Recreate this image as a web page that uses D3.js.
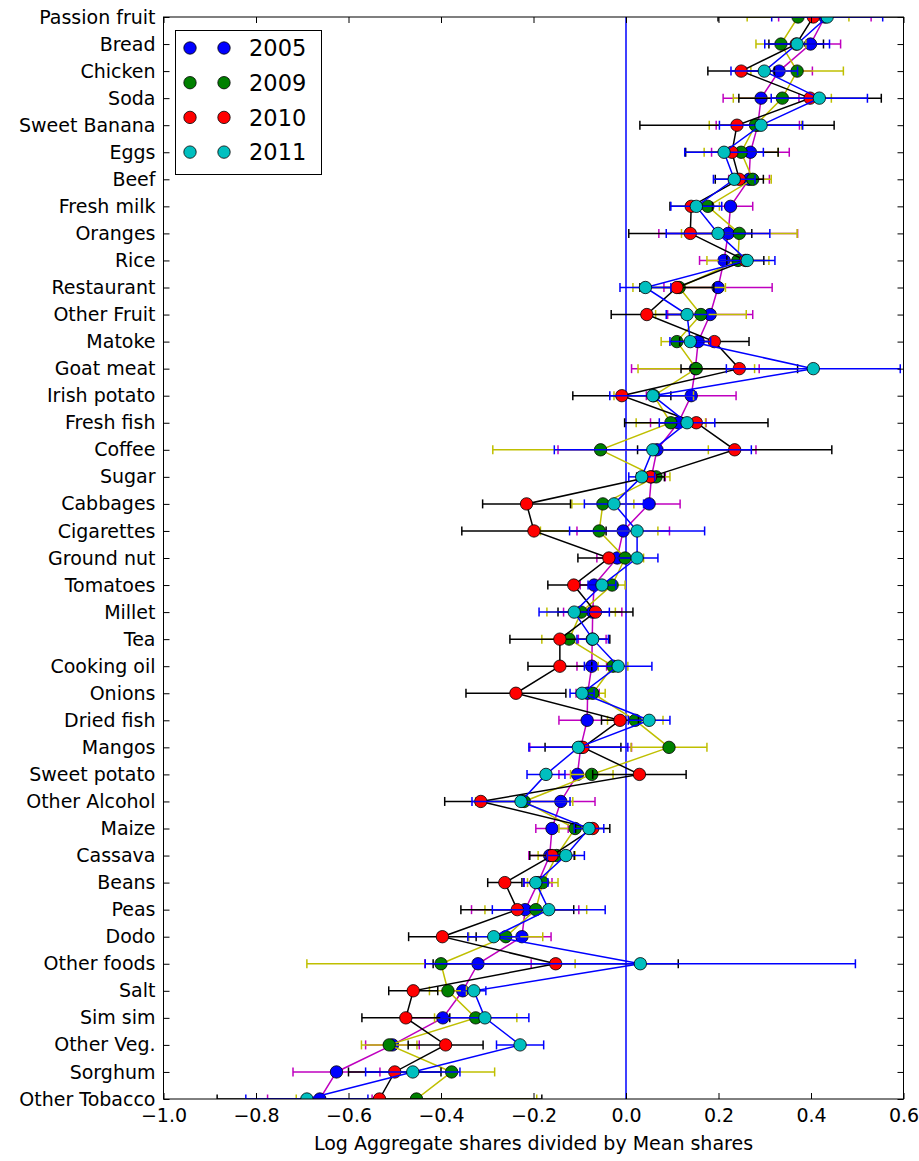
<!DOCTYPE html>
<html>
<head>
<meta charset="utf-8">
<script src="https://cdn.jsdelivr.net/npm/d3@7"></script>
<style>
  html, body { margin: 0; padding: 0; background: #fff; }
  svg { display: block; font-family: "DejaVu Sans", sans-serif; }
</style>
</head>
<body>
<svg id="chart" width="919" height="1161"></svg>
<script>
// Goods, listed top to bottom
const categories = [
  "Passion fruit", "Bread", "Chicken", "Soda", "Sweet Banana", "Eggs", "Beef",
  "Fresh milk", "Oranges", "Rice", "Restaurant", "Other Fruit", "Matoke",
  "Goat meat", "Irish potato", "Fresh fish", "Coffee", "Sugar", "Cabbages",
  "Cigarettes", "Ground nut", "Tomatoes", "Millet", "Tea", "Cooking oil",
  "Onions", "Dried fish", "Mangos", "Sweet potato", "Other Alcohol", "Maize",
  "Cassava", "Beans", "Peas", "Dodo", "Other foods", "Salt", "Sim sim",
  "Other Veg.", "Sorghum", "Other Tobacco"
];

// Log aggregate share / mean share, and error half-widths, per survey year
const v2005 = [0.430, 0.399, 0.331, 0.292, 0.285, 0.269, 0.266, 0.226, 0.221, 0.212,
  0.199, 0.182, 0.156, 0.150, 0.141, 0.113, 0.067, 0.055, 0.050, -0.006,
  -0.019, -0.069, -0.072, -0.073, -0.074, -0.083, -0.084, -0.098, -0.105, -0.141,
  -0.160, -0.165, -0.190, -0.218, -0.225, -0.320, -0.353, -0.396, -0.505, -0.626, -0.662];
const e2005 = [0.100, 0.065, 0.072, 0.082, 0.090, 0.084, 0.044, 0.048, 0.150, 0.053,
  0.117, 0.092, 0.040, 0.138, 0.097, 0.060, 0.214, 0.030, 0.067, 0.100,
  0.044, 0.030, 0.063, 0.030, 0.032, 0.025, 0.061, 0.110, 0.040, 0.074,
  0.035, 0.045, 0.030, 0.116, 0.063, 0.115, 0.030, 0.070, 0.058, 0.094, 0.113];

const v2009 = [0.372, 0.335, 0.370, 0.338, 0.280, 0.249, 0.274, 0.177, 0.245, 0.242,
  0.115, 0.162, 0.110, 0.152, 0.060, 0.097, -0.055, 0.065, -0.050, -0.058,
  -0.002, -0.030, -0.097, -0.123, -0.028, -0.072, 0.020, 0.093, -0.074, -0.220,
  -0.110, -0.150, -0.180, -0.195, -0.260, -0.400, -0.385, -0.325, -0.512, -0.377, -0.453];
const e2009 = [0.110, 0.054, 0.100, 0.106, 0.100, 0.080, 0.040, 0.025, 0.125, 0.067,
  0.100, 0.098, 0.034, 0.126, 0.086, 0.075, 0.233, 0.030, 0.067, 0.127,
  0.040, 0.028, 0.074, 0.059, 0.032, 0.027, 0.060, 0.082, 0.046, 0.105,
  0.035, 0.040, 0.033, 0.110, 0.080, 0.290, 0.040, 0.089, 0.060, 0.093, 0.260];

const v2010 = [0.405, 0.368, 0.249, 0.398, 0.240, 0.229, 0.245, 0.141, 0.139, 0.258,
  0.110, 0.045, 0.191, 0.245, -0.009, 0.152, 0.235, 0.053, -0.215, -0.199,
  -0.037, -0.113, -0.066, -0.143, -0.143, -0.238, -0.013, -0.093, 0.029, -0.314,
  -0.072, -0.160, -0.262, -0.235, -0.397, -0.152, -0.460, -0.476, -0.390, -0.500, -0.533];
const e2010 = [0.206, 0.059, 0.072, 0.154, 0.210, 0.100, 0.052, 0.046, 0.133, 0.040,
  0.080, 0.077, 0.075, 0.126, 0.106, 0.155, 0.210, 0.030, 0.095, 0.156,
  0.067, 0.056, 0.081, 0.108, 0.069, 0.108, 0.040, 0.082, 0.101, 0.078,
  0.037, 0.048, 0.037, 0.122, 0.073, 0.265, 0.053, 0.095, 0.081, 0.100, 0.351];

const v2011 = [0.435, 0.370, 0.299, 0.418, 0.292, 0.212, 0.234, 0.152, 0.199, 0.262,
  0.042, 0.132, 0.139, 0.405, 0.058, 0.132, 0.058, 0.034, -0.026, 0.024,
  0.024, -0.052, -0.112, -0.072, -0.017, -0.095, 0.050, -0.103, -0.173, -0.227,
  -0.080, -0.130, -0.195, -0.167, -0.286, 0.031, -0.329, -0.305, -0.229, -0.461, -0.690];
const e2011 = [0.120, 0.070, 0.072, 0.104, 0.090, 0.085, 0.045, 0.055, 0.112, 0.060,
  0.055, 0.045, 0.044, 0.188, 0.093, 0.060, 0.213, 0.028, 0.064, 0.146,
  0.045, 0.030, 0.076, 0.034, 0.073, 0.026, 0.045, 0.107, 0.041, 0.106,
  0.032, 0.040, 0.026, 0.122, 0.056, 0.465, 0.026, 0.095, 0.051, 0.102, 0.132];

const years = ["2005", "2009", "2010", "2011"];
const xTicks = [-1.0, -0.8, -0.6, -0.4, -0.2, 0.0, 0.2, 0.4, 0.6];

const seriesList = [
  { year: years[0], values: v2005, errors: e2005, marker: "#0000ff", line: "#bf00bf" },
  { year: years[1], values: v2009, errors: e2009, marker: "#008000", line: "#bfbf00" },
  { year: years[2], values: v2010, errors: e2010, marker: "#ff0000", line: "#000000" },
  { year: years[3], values: v2011, errors: e2011, marker: "#00bfbf", line: "#0000ff" }
];

const svg = d3.select("#chart");
const plotL = 163.5, plotR = 903.5, plotT = 17, plotB = 1099;

const x = d3.scaleLinear().domain([-1.0, 0.6]).range([plotL, plotR]);
const y = d3.scaleLinear().domain([0, categories.length - 1]).range([plotT, plotB]);

const FONT = 19;
const LEGEND_FONT = 22.5;
const R = 6.2;
const CAP = 4.5;
const LW = 1.5;

svg.append("defs").append("clipPath").attr("id", "plotClip")
  .append("rect").attr("x", plotL).attr("y", plotT)
  .attr("width", plotR - plotL).attr("height", plotB - plotT);

const plot = svg.append("g").attr("clip-path", "url(#plotClip)");

// zero reference line
plot.append("line")
  .attr("x1", x(0)).attr("x2", x(0)).attr("y1", plotT).attr("y2", plotB)
  .attr("stroke", "#0000ff").attr("stroke-width", LW);

const lineGen = d3.line().x(d => x(d.v)).y(d => y(d.i));

seriesList.forEach(s => {
  const pts = s.values.map((v, i) => ({ v, e: s.errors[i], i }));
  const g = plot.append("g");
  // error bars
  g.selectAll("line.bar").data(pts).join("line").attr("class", "bar")
    .attr("x1", d => x(d.v - d.e)).attr("x2", d => x(d.v + d.e))
    .attr("y1", d => y(d.i)).attr("y2", d => y(d.i))
    .attr("stroke", s.line).attr("stroke-width", LW);
  ["lo", "hi"].forEach(side => {
    g.selectAll("line.cap-" + side).data(pts).join("line").attr("class", "cap-" + side)
      .attr("x1", d => x(side === "lo" ? d.v - d.e : d.v + d.e))
      .attr("x2", d => x(side === "lo" ? d.v - d.e : d.v + d.e))
      .attr("y1", d => y(d.i) - CAP).attr("y2", d => y(d.i) + CAP)
      .attr("stroke", s.line).attr("stroke-width", LW);
  });
  // connecting line
  g.append("path").datum(pts).attr("d", lineGen)
    .attr("fill", "none").attr("stroke", s.line).attr("stroke-width", LW)
    .attr("stroke-linejoin", "miter");
  // markers
  g.selectAll("circle").data(pts).join("circle")
    .attr("cx", d => x(d.v)).attr("cy", d => y(d.i)).attr("r", R)
    .attr("fill", s.marker).attr("stroke", "#000").attr("stroke-width", 0.8);
});

// axes (inward ticks on all four sides)
const fmt = d3.format(".1f");
const axB = svg.append("g").attr("transform", `translate(0,${plotB})`)
  .call(d3.axisBottom(x).tickValues(xTicks).tickFormat(fmt)
    .tickSizeInner(-6).tickSizeOuter(0).tickPadding(10));
const axT = svg.append("g").attr("transform", `translate(0,${plotT})`)
  .call(d3.axisTop(x).tickValues(xTicks).tickFormat("")
    .tickSizeInner(-6).tickSizeOuter(0));
const axL = svg.append("g").attr("transform", `translate(${plotL},0)`)
  .call(d3.axisLeft(y).tickValues(d3.range(categories.length))
    .tickFormat(i => categories[i]).tickSizeInner(-6).tickSizeOuter(0).tickPadding(8));
const axR = svg.append("g").attr("transform", `translate(${plotR},0)`)
  .call(d3.axisRight(y).tickValues(d3.range(categories.length)).tickFormat("")
    .tickSizeInner(-6).tickSizeOuter(0));
[axB, axT, axL, axR].forEach(a => {
  a.select(".domain").remove();
  a.selectAll(".tick line").attr("stroke", "#000").attr("stroke-width", 1);
  a.selectAll(".tick text").attr("fill", "#000")
    .style("font-family", "DejaVu Sans").style("font-size", FONT + "px");
});

// frame
svg.append("rect").attr("x", plotL).attr("y", plotT)
  .attr("width", plotR - plotL).attr("height", plotB - plotT)
  .attr("fill", "none").attr("stroke", "#000").attr("stroke-width", 1);

// x axis title
svg.append("text")
  .attr("x", (plotL + plotR) / 2).attr("y", 1150)
  .attr("text-anchor", "middle")
  .style("font-size", FONT + "px")
  .text("Log Aggregate shares divided by Mean shares");

// legend
const lg = svg.append("g");
lg.append("rect").attr("x", 175.5).attr("y", 30.5).attr("width", 146).attr("height", 144)
  .attr("fill", "#fff").attr("stroke", "#000").attr("stroke-width", 1);
seriesList.forEach((s, k) => {
  const cy = 48 + k * 34.7;
  [190, 224].forEach(cx => {
    lg.append("circle").attr("cx", cx).attr("cy", cy).attr("r", R)
      .attr("fill", s.marker).attr("stroke", "#000").attr("stroke-width", 0.8);
  });
  lg.append("text").attr("x", 249).attr("y", cy).attr("dy", "0.36em")
    .style("font-size", LEGEND_FONT + "px").text(s.year);
});
</script>
</body>
</html>
